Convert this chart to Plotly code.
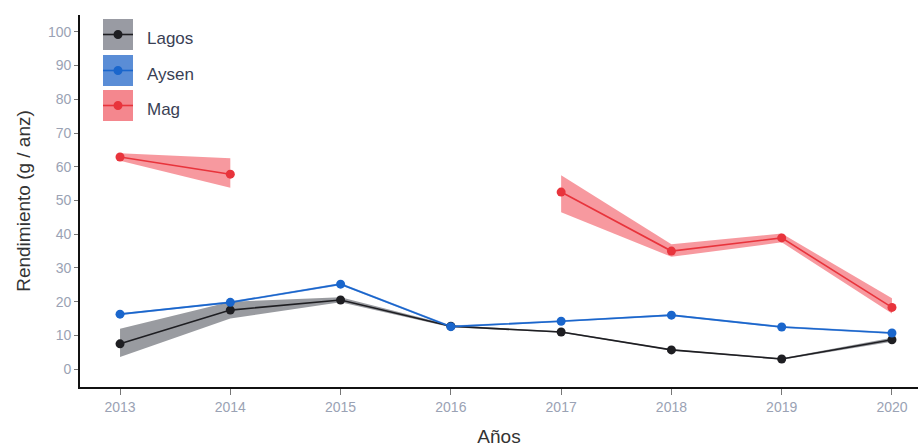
import plotly.graph_objects as go

# Yield per year and zone, with lower/upper bounds of the confidence band
years = [2013, 2014, 2015, 2016, 2017, 2018, 2019, 2020]

lagos = [7.5, 17.5, 20.5, 12.7, 11.0, 5.7, 3.0, 8.7]
lagos_lo = [3.6, 15.0, 19.8, 12.4, 10.8, 5.5, 2.8, 8.1]
lagos_hi = [12.0, 20.0, 21.3, 13.0, 11.2, 5.9, 3.2, 9.3]

aysen = [16.3, 19.8, 25.2, 12.6, 14.2, 16.0, 12.5, 10.7]
aysen_lo = [16.0, 19.5, 24.9, 12.3, 13.9, 15.7, 12.2, 10.4]
aysen_hi = [16.6, 20.1, 25.5, 12.9, 14.5, 16.3, 12.8, 11.0]

mag = [62.9, 57.8, None, None, 52.5, 35.0, 38.9, 18.3]
mag_lo = [61.8, 53.8, None, None, 46.5, 33.3, 37.6, 16.5]
mag_hi = [64.0, 62.5, None, None, 57.5, 37.0, 40.2, 21.0]

y_ticks = [0, 10, 20, 30, 40, 50, 60, 70, 80, 90, 100]

series = [
    ("Lagos", lagos, lagos_lo, lagos_hi, "#1e1e22", "rgba(70,72,82,0.55)", "#999ba3"),
    ("Aysen", aysen, aysen_lo, aysen_hi, "#1a66cc", "rgba(40,100,200,0.45)", "#5a8dd6"),
    ("Mag", mag, mag_lo, mag_hi, "#e8343c", "rgba(240,70,80,0.55)", "#f4878e"),
]

# figure geometry (pixels)
W, H = 918, 447
ML, MR, MT, MB = 80, 0, 15, 60
PW, PH = W - ML - MR, H - MT - MB


def px(x):
    return (x - ML) / PW


def py(y):
    return 1 - (y - MT) / PH


def ribbon_segments(xs, lo, hi):
    """Split a band into contiguous runs without missing values."""
    segs, cur = [], []
    for x, a, b in zip(xs, lo, hi):
        if a is None or b is None:
            if cur:
                segs.append(cur)
            cur = []
        else:
            cur.append((x, a, b))
    if cur:
        segs.append(cur)
    return segs


fig = go.Figure()

for name, vals, lo, hi, col, band, _ in series:
    for seg in ribbon_segments(years, lo, hi):
        xs = [s[0] for s in seg]
        fig.add_trace(go.Scatter(
            x=xs + xs[::-1],
            y=[s[2] for s in seg] + [s[1] for s in seg][::-1],
            fill="toself", fillcolor=band, mode="lines",
            line=dict(width=0), hoverinfo="skip", showlegend=False,
        ))

for name, vals, lo, hi, col, band, _ in series:
    fig.add_trace(go.Scatter(
        x=years, y=vals, name=name, mode="lines+markers",
        connectgaps=False,
        line=dict(color=col, width=1.6),
        marker=dict(color=col, size=9),
        showlegend=False,
    ))

# legend keys drawn in the top-left corner of the panel
shapes, annotations = [], []
key_tops = [19, 55, 90]
for (name, vals, lo, hi, col, band, keyfill), top in zip(series, key_tops):
    x0, x1 = 103, 133
    y0, y1 = top, top + 31
    yc = (y0 + y1) / 2
    shapes.append(dict(type="rect", xref="paper", yref="paper",
                       x0=px(x0), x1=px(x1), y0=py(y1), y1=py(y0),
                       fillcolor=keyfill, line=dict(width=0), layer="above"))
    shapes.append(dict(type="line", xref="paper", yref="paper",
                       x0=px(x0), x1=px(x1), y0=py(yc), y1=py(yc),
                       line=dict(color=col, width=1.6), layer="above"))
    shapes.append(dict(type="circle", xref="paper", yref="paper",
                       xsizemode="pixel", ysizemode="pixel",
                       xanchor=px((x0 + x1) / 2), yanchor=py(yc),
                       x0=-4.5, x1=4.5, y0=-4.5, y1=4.5,
                       fillcolor=col, line=dict(width=0), layer="above"))
    annotations.append(dict(xref="paper", yref="paper", x=px(145), y=py(yc + 4),
                            xanchor="left", yanchor="middle", showarrow=False,
                            text=name,
                            font=dict(family="Liberation Sans, Arial", size=17,
                                      color="#3a3f55")))

tick_font = dict(family="Liberation Sans, Arial", size=14, color="#9aa2b4")
title_font = dict(family="Liberation Sans, Arial", size=19, color="#333333")

fig.update_layout(
    width=W, height=H,
    margin=dict(l=ML, r=MR, t=MT, b=MB),
    paper_bgcolor="white", plot_bgcolor="white",
    showlegend=False,
    shapes=shapes, annotations=annotations,
    xaxis=dict(
        range=[2012.637, 2020.236],
        tickvals=years, ticktext=[str(y) for y in years],
        showgrid=False, zeroline=False,
        showline=True, linecolor="#111111", linewidth=1.6,
        ticks="outside", ticklen=6, tickcolor="#777777",
        tickfont=tick_font,
        title=dict(text="Años", font=title_font, standoff=16),
    ),
    yaxis=dict(
        range=[-5.3, 105.0],
        tickvals=y_ticks,
        showgrid=False, zeroline=False,
        showline=True, linecolor="#111111", linewidth=1.6,
        ticks="outside", ticklen=4, tickcolor="#777777",
        tickfont=tick_font,
        title=dict(text="Rendimiento (g / anz)", font=title_font, standoff=12),
    ),
)

fig.write_html("out.html")
